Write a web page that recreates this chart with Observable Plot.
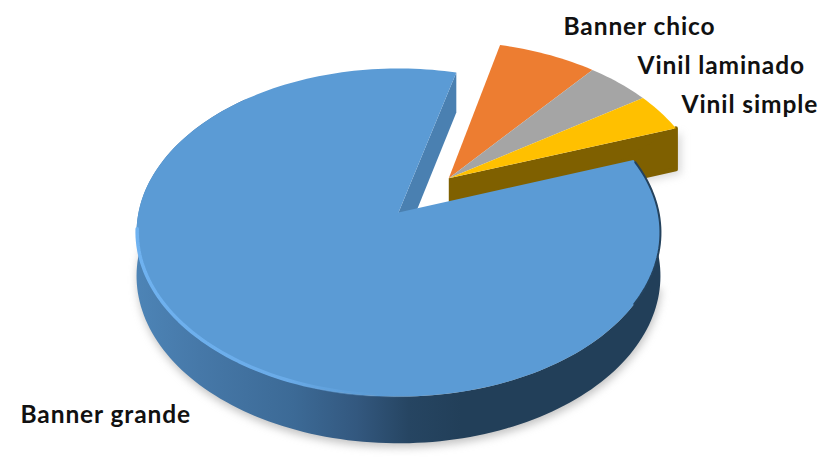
<!DOCTYPE html>
<html>
<head>
<meta charset="utf-8">
<style>html,body{margin:0;padding:0;background:#fff}svg{display:block}svg text{letter-spacing:.9px}</style>
<script src="https://cdn.jsdelivr.net/npm/d3@7"></script>
<script src="https://cdn.jsdelivr.net/npm/@observablehq/plot@0.6"></script>
</head>
<body>
<script>
// Sales share by product
const categories = ["Banner grande", "Banner chico", "Vinil laminado", "Vinil simple"];
const shares = [84.5, 7.0, 4.6, 3.9];
const sliceColors = ["#5B9BD5", "#ED7D31", "#A5A5A5", "#FFC000"];
const exploded = [false, true, true, true];

// Label placement, in page pixels
const labelX = [20, 563, 637, 681];
const labelY = [415, 27, 66, 105];

// Perspective view of the tilted disc
const view = {cx: 398, cy: 212, rx: 260, ry: 161.6, k: 0.122, depth: 43, depthK: 0.08, startDeg: 70.2};
const explodeDist = 0.295;

function project(u, v, lower = false) {
  const w = 1 + view.k * v;
  const drop = lower ? view.depth / (1 + view.depthK * v) : 0;
  return {x: view.cx + view.rx * u / w, y: view.cy - view.ry * v / w + drop};
}
const rad = (deg) => deg * Math.PI / 180;
const polar = (deg, r, o) => [o[0] + r * Math.sin(rad(deg)), o[1] + r * Math.cos(rad(deg))];
const arc = (a0, a1, o, lower) => {
  const n = Math.max(2, Math.ceil(Math.abs(a1 - a0) / 1.5));
  return d3.range(n + 1).map((i) => {
    const [u, v] = polar(a0 + (a1 - a0) * i / n, 1, o);
    return project(u, v, lower);
  });
};

// Angular extent of every slice, clockwise from the start angle
const total = d3.sum(shares);
let running = view.startDeg;
const slices = categories.map((category, i) => {
  const a0 = running;
  const a1 = (running += shares[i] / total * 360);
  return {category, a0, a1, exploded: exploded[i]};
});
const pieSmall = slices.filter((s) => s.exploded);
const big = slices[0];
const groupStart = pieSmall[0].a0, groupEnd = pieSmall[pieSmall.length - 1].a1;
const groupMid = (groupStart + groupEnd) / 2;
const offset = polar(groupMid, explodeDist, [0, 0]);
const origin = (s) => s.exploded ? offset : [0, 0];

const wedge = (s) => {
  const o = origin(s);
  const apex = project(o[0], o[1]);
  return [apex, ...arc(s.a0, s.a1, o, false), apex].map((p) => ({...p, category: s.category}));
};
// Flat face cut along one radius, extruded downward
const cutFace = (deg, o) => {
  const [u, v] = polar(deg, 1, o);
  return [project(o[0], o[1]), project(u, v), project(u, v, true), project(o[0], o[1], true)];
};
// Outer wall between two angles
const wall = (a0, a1, o) => [...arc(a0, a1, o, false), ...arc(a0, a1, o, true).reverse()];

const face = (pts, fill, extra = {}) =>
  Plot.line(pts, {x: "x", y: "y", fill, stroke: "none", ...extra});

const origin0 = [0, 0];
const yellow = pieSmall[pieSmall.length - 1];
const yellowEdge = cutFace(yellow.a1 % 360, offset);
const [, cornerTop, cornerBottom, apexBottom] = yellowEdge;
const edgeMid = {
  x: (cornerBottom.x + apexBottom.x) / 2,
  y: (cornerBottom.y + apexBottom.y) / 2
};
const yellowOuter = [cornerTop, cornerBottom, edgeMid];

const labels = categories.map((text, i) => ({text, x: labelX[i], y: labelY[i]}));

const plot = Plot.plot({
  width: 829,
  height: 457,
  margin: 0,
  x: {domain: [0, 829], range: [0, 829], axis: null},
  y: {domain: [0, 457], range: [0, 457], axis: null},
  color: {domain: categories, range: sliceColors},
  style: {background: "#fff"},
  marks: [
    // Soft shadows under the disc and the pulled-out group
    face(arc(100, 280, origin0, true).map((p) => ({x: p.x + 1, y: p.y + 4})), "#8f8f8f",
      {imageFilter: "blur(4px)", fillOpacity: 0.55}),
    face(yellowOuter.map((p) => ({x: p.x + 5, y: p.y + 4})), "#8f8f8f",
      {imageFilter: "blur(4px)", fillOpacity: 0.35}),
    // Pulled-out slices
    face(yellowEdge, "#7F6000"),
    Plot.line(yellowOuter, {x: "x", y: "y", fill: "#7F6000", stroke: "#7F6000", strokeWidth: 4, strokeLinejoin: "round"}),
    ...pieSmall.map((s) => Plot.line(wedge(s), {x: "x", y: "y", fill: "category", stroke: "none"})),
    // Main slice: cut face, wall, top
    face(cutFace(big.a1 % 360, origin0), "#4A80B1"),
    face(wall(big.a0, 320, origin0), "url(#wallShade)"),
    Plot.line(wedge(big), {x: "x", y: "y", fill: "category", stroke: "none"}),
    // Rim highlight and dark edge
    Plot.line(arc(264, 178, origin0, false).map((p) => ({x: p.x + 0.6, y: p.y - 0.8})),
      {x: "x", y: "y", stroke: "url(#rimLight)", strokeWidth: 3.5, imageFilter: "blur(0.7px)"}),
    Plot.line(arc(big.a0 + 1, 122, origin0, false),
      {x: "x", y: "y", stroke: "#24425d", strokeWidth: 2, imageFilter: "blur(0.5px)"}),
    // Slice names
    Plot.text(labels, {
      x: "x", y: "y", text: "text", textAnchor: "start",
      fontFamily: "Lato", fontWeight: 700, fontSize: 24.5, fill: "#111"
    })
  ]
});

// Gradients used by the wall and the highlight
const defs = d3.select(plot).insert("defs", ":first-child");
const gradient = (id, stops) => {
  const g = defs.append("linearGradient").attr("id", id)
    .attr("x1", 0).attr("x2", 1).attr("y1", 0).attr("y2", 0);
  for (const [offset, color, opacity = 1] of stops)
    g.append("stop").attr("offset", offset).attr("stop-color", color).attr("stop-opacity", opacity);
};
gradient("wallShade", [[0, "#4D84B6"], [0.12, "#4678A8"], [0.3, "#3C6A96"], [0.42, "#33587F"], [0.52, "#264562"], [0.62, "#223F59"], [1, "#223F59"]]);
gradient("rimLight", [[0, "#6FB2F0"], [0.55, "#6AABE8"], [1, "#5B9BD5", 0]]);

document.body.appendChild(plot);
</script>
</body>
</html>
